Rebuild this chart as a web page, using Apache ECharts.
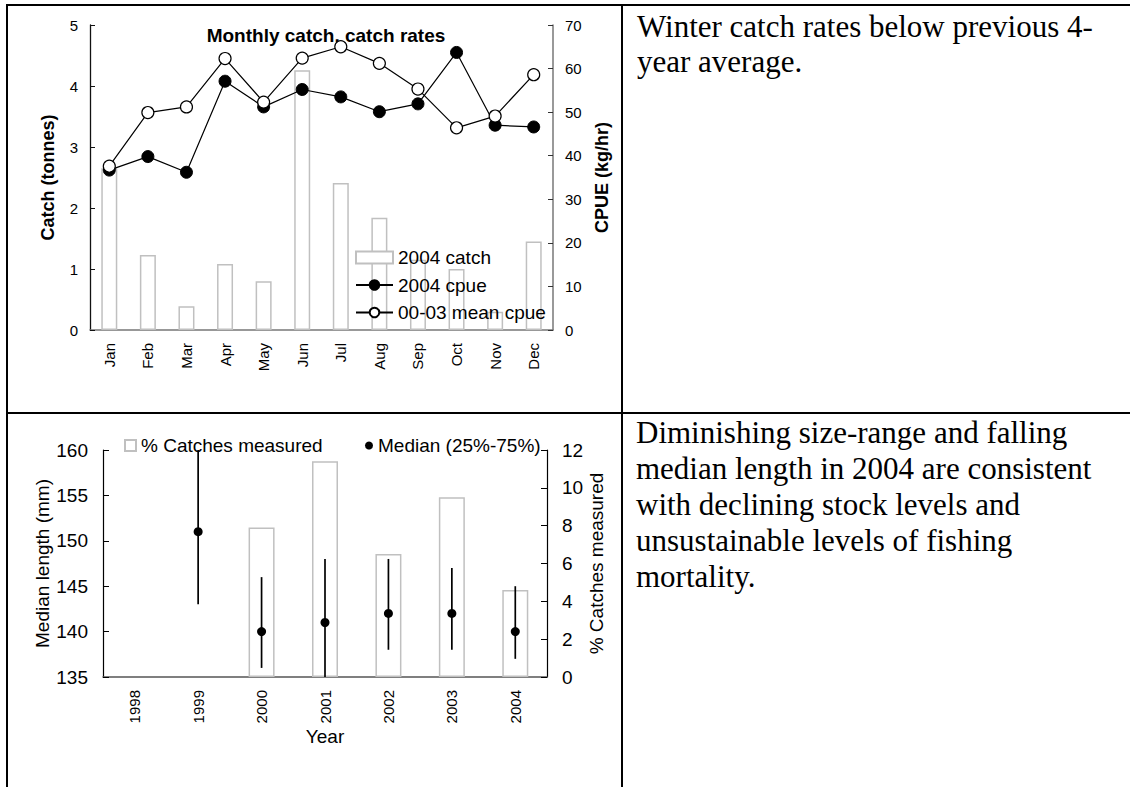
<!DOCTYPE html>
<html>
<head>
<meta charset="utf-8">
<script src="https://cdn.jsdelivr.net/npm/echarts@6/dist/echarts.min.js"></script>
<style>
html,body{margin:0;padding:0;background:#fff;}
#c{width:1130px;height:787px;}
</style>
</head>
<body>
<div id="c"></div>
<script>
// ---- data ----
const months = ['Jan','Feb','Mar','Apr','May','Jun','Jul','Aug','Sep','Oct','Nov','Dec'];
const catch2004 = [2.65, 1.23, 0.39, 1.08, 0.80, 4.26, 2.41, 1.84, 1.15, 1.00, 0.30, 1.45];
const cpue2004 = [36.7, 39.8, 36.2, 57.1, 51.2, 55.2, 53.5, 50.1, 51.9, 63.7, 47.0, 46.6];
const cpueMean0003 = [37.6, 49.9, 51.2, 62.3, 52.3, 62.4, 65.0, 61.2, 55.3, 46.4, 49.1, 58.6];

const years = ['1998','1999','2000','2001','2002','2003','2004'];
const pctMeasured = [null, null, 7.9, 11.4, 6.5, 9.5, 4.6];
const medianLength = [null, 151, 140, 141, 142, 142, 140];
const q25Length = [null, 143, 136, 135, 138, 138, 137];
const q75Length = [null, 160, 146, 148, 148, 147, 145];

const note1 = ['Winter catch rates below previous 4-', 'year average.'];
const note2 = ['Diminishing size-range and falling', 'median length in 2004 are consistent',
  'with declining stock levels and', 'unsustainable levels of fishing', 'mortality.'];

// ---- chart ----
const SANS = '"Liberation Sans", Arial, sans-serif';
const SERIF = '"Liberation Serif", "Times New Roman", serif';
const chart = echarts.init(document.getElementById('c'), null, {renderer: 'svg'});

const whiskerData = [];
years.forEach((y, i) => {
  if (medianLength[i] != null) {
    whiskerData.push([i, q25Length[i], q75Length[i]]);
  }
});

const W = 1130;
const tickLbl = (fs) => ({color: '#000', fontFamily: SANS, fontSize: fs});

chart.setOption({
  animation: false,
  textStyle: {fontFamily: SANS},
  grid: [
    {left: 90, right: W - 553, top: 25, height: 305},
    {left: 103, right: W - 547, top: 450, height: 227}
  ],
  xAxis: [
    {type: 'category', gridIndex: 0, data: months, boundaryGap: true,
     axisLine: {lineStyle: {color: '#777', width: 1.5}},
     axisTick: {inside: true, length: 4, lineStyle: {color: '#333'}},
     axisLabel: Object.assign(tickLbl(15), {rotate: 90, margin: 13})},
    {type: 'category', gridIndex: 1, data: years, boundaryGap: true,
     name: 'Year', nameLocation: 'middle', nameGap: 47,
     nameTextStyle: {color: '#000', fontFamily: SANS, fontSize: 19},
     axisLine: {lineStyle: {color: '#555', width: 1.5}},
     axisTick: {inside: true, length: 5, lineStyle: {color: '#333'}},
     axisLabel: Object.assign(tickLbl(15), {rotate: 90, margin: 13})}
  ],
  yAxis: [
    {type: 'value', gridIndex: 0, min: 0, max: 5, interval: 1, position: 'left',
     name: 'Catch (tonnes)', nameLocation: 'middle', nameGap: 33,
     nameTextStyle: {color: '#000', fontFamily: SANS, fontSize: 18, fontWeight: 'bold'},
     axisLine: {show: true, lineStyle: {color: '#111', width: 1.3}},
     axisTick: {show: true, inside: true, length: 5, lineStyle: {color: '#111'}},
     splitLine: {show: false},
     axisLabel: Object.assign(tickLbl(15), {margin: 12})},
    {type: 'value', gridIndex: 0, min: 0, max: 70, interval: 10, position: 'right',
     name: 'CPUE (kg/hr)', nameLocation: 'middle', nameGap: 40,
     nameTextStyle: {color: '#000', fontFamily: SANS, fontSize: 18, fontWeight: 'bold'},
     axisLine: {show: true, lineStyle: {color: '#777', width: 1.5}},
     axisTick: {show: true, inside: true, length: 5, lineStyle: {color: '#333'}},
     splitLine: {show: false},
     axisLabel: Object.assign(tickLbl(15), {margin: 12})},
    {type: 'value', gridIndex: 1, min: 135, max: 160, interval: 5, position: 'left',
     name: 'Median length (mm)', nameLocation: 'middle', nameGap: 50,
     nameTextStyle: {color: '#000', fontFamily: SANS, fontSize: 19},
     axisLine: {show: true, lineStyle: {color: '#000', width: 1.2}},
     axisTick: {show: true, inside: true, length: 6, lineStyle: {color: '#000'}},
     splitLine: {show: false},
     axisLabel: Object.assign(tickLbl(19), {margin: 15})},
    {type: 'value', gridIndex: 1, min: 0, max: 12, interval: 2, position: 'right',
     name: '% Catches measured', nameLocation: 'middle', nameGap: 38,
     nameTextStyle: {color: '#000', fontFamily: SANS, fontSize: 19},
     axisLine: {show: true, lineStyle: {color: '#000', width: 1.2}},
     axisTick: {show: true, inside: true, length: 6, lineStyle: {color: '#000'}},
     splitLine: {show: false},
     axisLabel: Object.assign(tickLbl(19), {margin: 15})}
  ],
  legend: [
    {data: [{name: '2004 catch', icon: 'rect'}, '2004 cpue', '00-03 mean cpue'], orient: 'vertical',
     left: 355, top: 248, padding: 0, itemWidth: 37, itemHeight: 12, itemGap: 8.5,
     selectedMode: false,
     textStyle: {color: '#000', fontFamily: SANS, fontSize: 19}},
    {data: [{name: '% Catches measured', icon: 'rect'}], left: 124, top: 436, padding: 0,
     itemWidth: 11, itemHeight: 11, selectedMode: false,
     textStyle: {color: '#000', fontFamily: SANS, fontSize: 19}},
    {data: ['Median (25%-75%)'], left: 365, top: 436, padding: 0,
     itemWidth: 8, itemHeight: 8, icon: 'circle', selectedMode: false,
     textStyle: {color: '#000', fontFamily: SANS, fontSize: 19}}
  ],
  series: [
    {name: '2004 catch', type: 'bar', xAxisIndex: 0, yAxisIndex: 0, data: catch2004, z: 1,
     barWidth: 16, itemStyle: {color: '#fff', borderColor: '#c0c0c0', borderWidth: 1.5}},
    {name: '2004 cpue', type: 'line', xAxisIndex: 0, yAxisIndex: 1, data: cpue2004, z: 3,
     symbol: 'circle', symbolSize: 12,
     lineStyle: {color: '#000', width: 1.2},
     itemStyle: {color: '#000', borderColor: '#000', borderWidth: 1}},
    {name: '00-03 mean cpue', type: 'line', xAxisIndex: 0, yAxisIndex: 1, data: cpueMean0003, z: 4,
     symbol: 'circle', symbolSize: 12,
     lineStyle: {color: '#000', width: 1.2},
     itemStyle: {color: '#fff', borderColor: '#000', borderWidth: 1.2}},
    {name: '% Catches measured', type: 'bar', xAxisIndex: 1, yAxisIndex: 3, data: pctMeasured, z: 1,
     barWidth: 26, itemStyle: {color: '#fff', borderColor: '#c0c0c0', borderWidth: 1.5}},
    {name: 'whiskers', type: 'custom', xAxisIndex: 1, yAxisIndex: 2, data: whiskerData, z: 5,
     renderItem: function (params, api) {
       const lo = api.coord([api.value(0), api.value(1)]);
       const hi = api.coord([api.value(0), api.value(2)]);
       return {type: 'line', shape: {x1: lo[0], y1: lo[1], x2: hi[0], y2: hi[1]},
               style: {stroke: '#000', lineWidth: 1.7}};
     }},
    {name: 'Median (25%-75%)', type: 'scatter', xAxisIndex: 1, yAxisIndex: 2, data: medianLength, z: 6,
     symbol: 'circle', symbolSize: 9, itemStyle: {color: '#000', opacity: 1}}
  ],
  graphic: [
    {type: 'rect', shape: {x: 7, y: 4, width: W - 7, height: 2}, style: {fill: '#000'}},
    {type: 'rect', shape: {x: 6, y: 4, width: 2, height: 787}, style: {fill: '#000'}},
    {type: 'rect', shape: {x: 621, y: 4, width: 2, height: 787}, style: {fill: '#000'}},
    {type: 'rect', shape: {x: 7, y: 412, width: W - 7, height: 2}, style: {fill: '#000'}},
    {type: 'text', x: 326, y: 35, style: {text: 'Monthly catch, catch rates', fill: '#000',
      font: 'bold 19px ' + SANS, textAlign: 'center', textVerticalAlign: 'middle'}},
    {type: 'text', x: 637, y: 9, style: {text: note1.join('\n'), fill: '#000',
      font: '31px ' + SERIF, lineHeight: 35, textAlign: 'left', textVerticalAlign: 'top'}},
    {type: 'text', x: 636, y: 414, style: {text: note2.join('\n'), fill: '#000',
      font: '31px ' + SERIF, lineHeight: 36, textAlign: 'left', textVerticalAlign: 'top'}}
  ]
});
</script>
</body>
</html>
